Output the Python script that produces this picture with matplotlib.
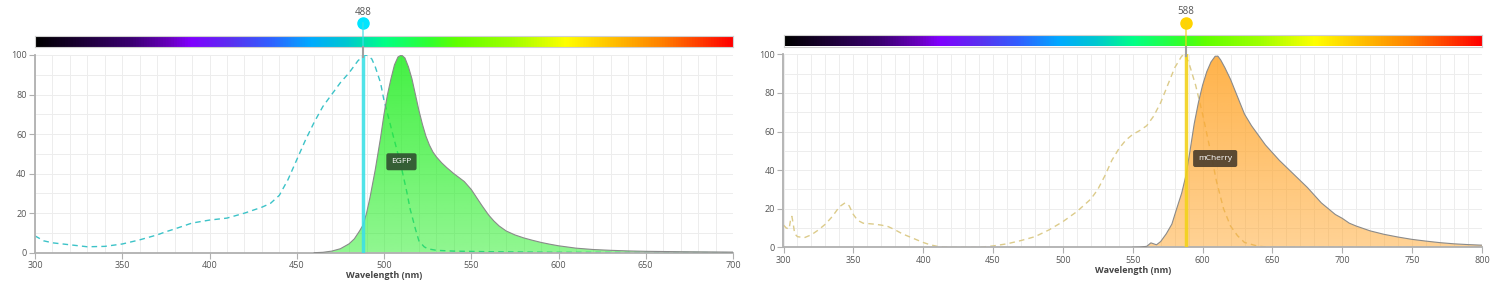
import numpy as np
import matplotlib
matplotlib.use('Agg')
from matplotlib import pyplot as plt
from matplotlib import colors as mcolors
from matplotlib import transforms as mtrans

plt.rcParams['font.family'] = ['Open Sans', 'DejaVu Sans']

# EGFP spectra (wavelength nm, relative intensity %)
egfp_ex_wl = [300, 305, 310, 320, 330, 340, 350, 360, 370, 375, 380, 390, 400, 410, 420,
              430, 435, 440, 445, 450, 455, 460, 465, 470, 475, 480, 485, 488, 490, 493,
              495, 498, 500, 503, 505, 508, 510, 513, 515, 518, 520, 523, 525, 530, 540,
              560, 600, 650, 700]
egfp_ex = [8.5, 6, 5, 4, 3, 3.2, 4.4, 6.5, 9, 10.6, 12, 15, 16.5, 17.5, 20,
           23, 25, 29, 37, 47, 57, 66, 74, 80, 86, 91, 97, 99.5, 100, 98,
           94, 86, 77, 67, 60, 50, 43, 31, 22, 12, 6, 3, 2, 1.2, 0.8,
           0.5, 0.2, 0.1, 0]
egfp_em_wl = [460, 465, 470, 475, 480, 483, 486, 488, 490, 492, 495, 498, 500, 502, 504,
              506, 508, 510, 512, 514, 516, 518, 520, 522, 524, 526, 528, 530, 533, 536,
              540, 543, 546, 550, 553, 556, 560, 563, 566, 570, 575, 580, 585, 590, 595,
              600, 605, 610, 620, 630, 640, 650, 670, 700]
egfp_em = [0, 0.2, 0.8, 2, 4.5, 7, 11, 14, 20, 28, 42, 58, 70, 80, 88,
           95, 99, 100, 98.5, 94, 88, 80, 72, 65, 59, 54.5, 51, 48.5, 45.5, 43,
           40, 38, 36, 32, 28, 24, 19, 16, 13.5, 11, 9, 7.5, 6.3, 5.2, 4.3,
           3.5, 2.9, 2.3, 1.6, 1.2, 0.9, 0.7, 0.5, 0.3]

# mCherry spectra
mch_ex_wl = [300, 302, 304, 305, 306, 307, 308, 310, 315, 320, 325, 330, 335, 340, 344,
             347, 350, 353, 357, 365, 370, 375, 380, 385, 390, 395, 400, 405, 410, 415,
             420, 440, 450, 460, 470, 480, 490, 500, 510, 520, 525, 530, 535, 540, 545,
             550, 555, 560, 565, 570, 575, 580, 585, 587, 590, 595, 600, 605, 610, 615,
             620, 625, 630, 640, 650, 800]
mch_ex = [11.5, 10, 9.5, 14, 16, 12, 7, 5.5, 5, 6.5, 9, 12, 16, 21, 23,
          21.5, 17, 14, 12.5, 12, 11.5, 10.7, 9, 7, 5.5, 4, 2.5, 1.3, 0.5, 0.1,
          0, 0, 0.7, 1.8, 3.5, 5.5, 9, 13.3, 18.5, 25, 30, 37, 45, 51, 55.5,
          58.5, 60.5, 63, 68, 75, 84, 93, 99, 100, 96, 84, 69, 52, 34, 20,
          11, 6, 2.5, 0.5, 0, 0]
mch_em_wl = [550, 555, 560, 563, 565, 567, 570, 574, 578, 581, 585, 588, 591, 594, 597,
             600, 603, 606, 609, 611, 613, 616, 620, 625, 630, 635, 640, 645, 650, 655,
             660, 665, 670, 675, 680, 685, 690, 695, 700, 705, 710, 720, 730, 740, 750,
             760, 770, 780, 790, 800]
mch_em = [0, 0.1, 0.5, 2.3, 1.8, 1.3, 3, 7, 12, 19, 28, 37, 50, 64, 75,
          84, 91, 96, 99, 99, 97, 93, 87, 78, 69, 63, 58, 53, 49, 45,
          41.5, 38, 34.5, 31, 27, 23, 20, 17, 15, 12.5, 11, 8.5, 6.7, 5.3, 4.1,
          3.2, 2.4, 1.8, 1.4, 1.1]

# spectrum bar stops (fraction along bar, colour)
bar_stops = [(0.0, '#000000'), (0.136, '#3a0070'), (0.193, '#6a00c0'), (0.222, '#8000ff'),
             (0.28, '#5a30f0'), (0.337, '#3060ff'), (0.394, '#00aaff'), (0.447, '#00c8d0'),
             (0.50, '#00ff88'), (0.566, '#30ff30'), (0.604, '#60ff00'), (0.685, '#a0ff00'),
             (0.762, '#ffff00'), (0.828, '#ffc000'), (0.90, '#ff8000'), (1.0, '#ff0000')]

W, H = 1499, 285
fig = plt.figure(figsize=(W / 100, H / 100), dpi=100)
spec_cmap = mcolors.LinearSegmentedColormap.from_list('spec', bar_stops)


def px_axes(x0, x1, ytop, ybot):
    return fig.add_axes([x0 / W, (H - ybot) / H, (x1 - x0) / W, (ybot - ytop) / H])


def gradient_fill(ax, x, y, color, a_top, a_bot):
    x = np.asarray(x, float)
    y = np.asarray(y, float)
    poly, = ax.fill(np.r_[x[0], x, x[-1]], np.r_[0, y, 0], facecolor='none',
                    edgecolor='none')
    z = np.zeros((200, 1, 4))
    z[:, :, :3] = mcolors.to_rgb(color)
    z[:, 0, 3] = np.linspace(a_bot, a_top, 200)
    im = ax.imshow(z, aspect='auto', extent=[x.min(), x.max(), 0, 100],
                   origin='lower', zorder=2, interpolation='bilinear')
    im.set_clip_path(poly)
    ax.plot(x, y, color='#8a8a8a', lw=0.8, zorder=3)


def panel(box, bar_box, xlim, xmaj, ex_wl, ex, em_wl, em, ex_color, fill_color,
          line_wl, line_color, dot_color, label, label_color, xl_y):
    ax = px_axes(*box)
    gradient_fill(ax, em_wl, em, fill_color, 0.85, 0.5)
    ax.plot(ex_wl, ex, color=ex_color, lw=1.0, ls=(0, (4, 3)), zorder=1.5)
    ax.set_xlim(*xlim)
    ax.set_ylim(0, 100)
    ax.set_xticks(np.arange(xlim[0], xlim[1] + 1, xmaj))
    ax.set_yticks(np.arange(0, 101, 20))
    ax.set_xticks(np.arange(xlim[0], xlim[1] + 1, 10), minor=True)
    ax.set_yticks(np.arange(0, 101, 10), minor=True)
    ax.grid(True, which='both', color='#ededed', lw=0.7, zorder=0)
    ax.set_axisbelow(True)
    for s in ('top', 'right'):
        ax.spines[s].set_visible(False)
    for s in ('left', 'bottom'):
        ax.spines[s].set_color('#b0b0b0')
        ax.spines[s].set_linewidth(1.3)
    ax.tick_params(which='major', length=4, width=0.8, color='#b0b0b0',
                   labelsize=6.5, labelcolor='#555555', pad=2)
    ax.tick_params(which='minor', length=0)

    # excitation line
    ax.axvline(line_wl, color=line_color, lw=2.5, alpha=0.9, zorder=4)
    ax.text(em_wl[int(np.argmax(em))], 46, label, ha='center', va='center',
            fontsize=6, color='white', zorder=6,
            bbox=dict(boxstyle='round,pad=0.6,rounding_size=0.25', fc=label_color,
                      ec='none', alpha=0.9))

    # xlabel
    fig.text((box[0] + box[1]) / 2 / W, 1 - xl_y / H, 'Wavelength (nm)', ha='center',
             va='center', fontsize=6.5, fontweight='bold', color='#444444')

    # spectrum bar
    bax = px_axes(*bar_box)
    bax.imshow(np.linspace(0, 1, 512)[None, :], aspect='auto', cmap=spec_cmap,
               extent=[0, 1, 0, 1])
    bax.set_xticks([])
    bax.set_yticks([])
    for s in bax.spines.values():
        s.set_color('#d0d0d0')
        s.set_linewidth(0.8)

    # marker above bar
    tr = mtrans.blended_transform_factory(ax.transData, fig.transFigure)
    y_dot = 1 - (bar_box[2] - 12.5) / H
    y_bar_bot = 1 - bar_box[3] / H
    y_top = 1 - box[2] / H
    fig.add_artist(plt.Line2D([line_wl, line_wl], [y_dot, y_bar_bot], transform=tr,
                              color=line_color, lw=1.2, alpha=0.7))
    fig.add_artist(plt.Line2D([line_wl, line_wl], [y_bar_bot, y_top - 2 / H],
                              transform=tr, color='#a0a0a0', lw=1.5))
    ax.plot([line_wl], [y_dot], 'o', transform=tr, ms=8, color=dot_color,
            clip_on=False, zorder=10)
    ax.text(line_wl, y_dot + 11 / H, str(line_wl), transform=tr, ha='center',
            va='center', fontsize=7, color='#555555')
    return ax


panel((35, 733, 55, 252.7), (35, 733, 35.7, 47.3), (300, 700), 50,
      egfp_ex_wl, egfp_ex, egfp_em_wl, egfp_em, '#3cc3c8', '#22ee22',
      488, '#3de0e6', '#00e5ff', 'EGFP', '#2f4f2f', 276)
panel((783.5, 1482, 54.3, 247.3), (784, 1482, 35.5, 46.5), (300, 800), 50,
      mch_ex_wl, mch_ex, mch_em_wl, mch_em, '#dccb8a', '#ffa52a',
      588, '#f2d21a', '#ffd400', 'mCherry', '#4a3d2c', 270.5)

fig.savefig('out.png', dpi=100)
